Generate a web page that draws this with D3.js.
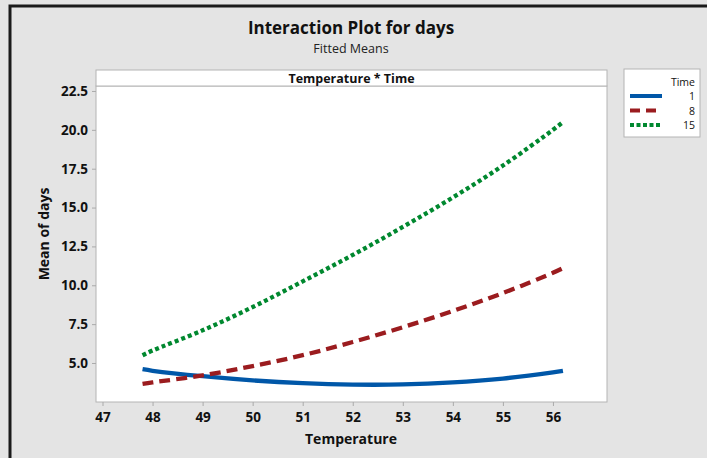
<!DOCTYPE html>
<html>
<head>
<meta charset="utf-8">
<script src="https://cdn.jsdelivr.net/npm/d3@7"></script>
<style>
  body { margin: 0; background: #fff; }
  svg { display: block; font-family: "Open Sans", "Noto Sans", sans-serif; }
</style>
</head>
<body>
<svg id="chart" width="707" height="458"></svg>
<script>
// fitted means
const temps = [47.8, 48, 49, 50, 51, 52, 53, 54, 55, 56, 56.2];
const time1 = [4.6, 4.5, 4.15, 3.88, 3.7, 3.61, 3.62, 3.75, 4.0, 4.4, 4.5];
const time8 = [3.65, 3.75, 4.2, 4.8, 5.5, 6.35, 7.3, 8.35, 9.5, 10.8, 11.1];
const time15 = [5.5, 5.8, 7.1, 8.6, 10.25, 11.95, 13.75, 15.65, 17.7, 20.0, 20.5];
const xTicks = [47, 48, 49, 50, 51, 52, 53, 54, 55, 56];
const yTicks = [5.0, 7.5, 10.0, 12.5, 15.0, 17.5, 20.0, 22.5];
const seriesNames = ['1', '8', '15'];

const series = [
    { name: seriesNames[0], values: time1, color: '#0057a8', dash: null, legendDash: null },
    { name: seriesNames[1], values: time8, color: '#9b1c1f', dash: '11,6', legendDash: '10,6' },
    { name: seriesNames[2], values: time15, color: '#00882f', dash: '4,3', legendDash: '4,2.5' }
];

const svg = d3.select('#chart');
const W = 707, H = 458;
const plot = { left: 96, right: 607, top: 86, bottom: 402 };

// figure background and frame
svg.append('rect')
    .attr('x', 0).attr('y', 0).attr('width', W).attr('height', H)
    .attr('fill', '#e4e4e4');
svg.append('path')
    .attr('d', `M10,${H} L10,6 L${W},6`)
    .attr('fill', 'none')
    .attr('stroke', '#1a1a1a')
    .attr('stroke-width', 3);

// titles
svg.append('text')
    .attr('x', 351).attr('y', 34)
    .attr('text-anchor', 'middle')
    .attr('font-size', 17).attr('font-weight', 'bold')
    .attr('fill', '#111')
    .text('Interaction Plot for days');
svg.append('text')
    .attr('x', 351).attr('y', 53)
    .attr('text-anchor', 'middle')
    .attr('font-size', 12.5)
    .attr('fill', '#222')
    .text('Fitted Means');

const x = d3.scaleLinear()
    .domain([46.87, 57.08])
    .range([plot.left, plot.right]);
const y = d3.scaleLinear()
    .domain([2.49, 22.82])
    .range([plot.bottom, plot.top]);

// panel + header strip
svg.append('rect')
    .attr('x', plot.left).attr('y', plot.top)
    .attr('width', plot.right - plot.left).attr('height', plot.bottom - plot.top)
    .attr('fill', '#fff')
    .attr('stroke', '#b4b4b4');
svg.append('rect')
    .attr('x', plot.left).attr('y', 70)
    .attr('width', plot.right - plot.left).attr('height', plot.top - 70)
    .attr('fill', '#fff')
    .attr('stroke', '#b4b4b4');
svg.append('text')
    .attr('x', (plot.left + plot.right) / 2).attr('y', 82.5)
    .attr('text-anchor', 'middle')
    .attr('font-size', 12.5).attr('font-weight', 'bold')
    .attr('fill', '#111')
    .text('Temperature * Time');

// axes
const xAxis = svg.append('g')
    .attr('transform', `translate(0,${plot.bottom})`)
    .call(d3.axisBottom(x).tickValues(xTicks).tickSize(4).tickPadding(6).tickFormat(d3.format('d')));
const yAxis = svg.append('g')
    .attr('transform', `translate(${plot.left},0)`)
    .call(d3.axisLeft(y).tickValues(yTicks).tickSize(4).tickPadding(4).tickFormat(d3.format('.1f')));
[xAxis, yAxis].forEach(g => {
    g.attr('font-size', 13.5).attr('font-family', '"Open Sans", "Noto Sans", sans-serif');
    g.select('.domain').remove();
    g.selectAll('line').attr('stroke', '#aaa');
    g.selectAll('text')
        .attr('font-weight', 'bold')
        .attr('fill', '#111');
});

svg.append('text')
    .attr('x', 351).attr('y', 444)
    .attr('text-anchor', 'middle')
    .attr('font-size', 14).attr('font-weight', 'bold')
    .attr('fill', '#111')
    .text('Temperature');
svg.append('text')
    .attr('transform', 'translate(49,234) rotate(-90)')
    .attr('text-anchor', 'middle')
    .attr('font-size', 14).attr('font-weight', 'bold')
    .attr('fill', '#111')
    .text('Mean of days');

// curves
const line = d3.line()
    .x((d, i) => x(temps[i]))
    .y(d => y(d))
    .curve(d3.curveCatmullRom);

series.forEach(s => {
    svg.append('path')
        .datum(s.values)
        .attr('fill', 'none')
        .attr('stroke', s.color)
        .attr('stroke-width', 4.3)
        .attr('stroke-dasharray', s.dash)
        .attr('d', line);
});

// legend
const legend = svg.append('g');
legend.append('rect')
    .attr('x', 624).attr('y', 69).attr('width', 76).attr('height', 68)
    .attr('fill', '#fff')
    .attr('stroke', '#b4b4b4');
legend.append('text')
    .attr('x', 695).attr('y', 86)
    .attr('text-anchor', 'end')
    .attr('font-size', 10.5).attr('fill', '#111')
    .text('Time');
series.forEach((s, i) => {
    const ly = 96 + i * 14.5;
    legend.append('line')
        .attr('x1', 630).attr('x2', 662)
        .attr('y1', ly).attr('y2', ly)
        .attr('stroke', s.color)
        .attr('stroke-width', 4)
        .attr('stroke-dasharray', s.legendDash);
    legend.append('text')
        .attr('x', 695).attr('y', ly + 4)
        .attr('text-anchor', 'end')
        .attr('font-size', 10.5).attr('fill', '#111')
        .text(s.name);
});
</script>
</body>
</html>
